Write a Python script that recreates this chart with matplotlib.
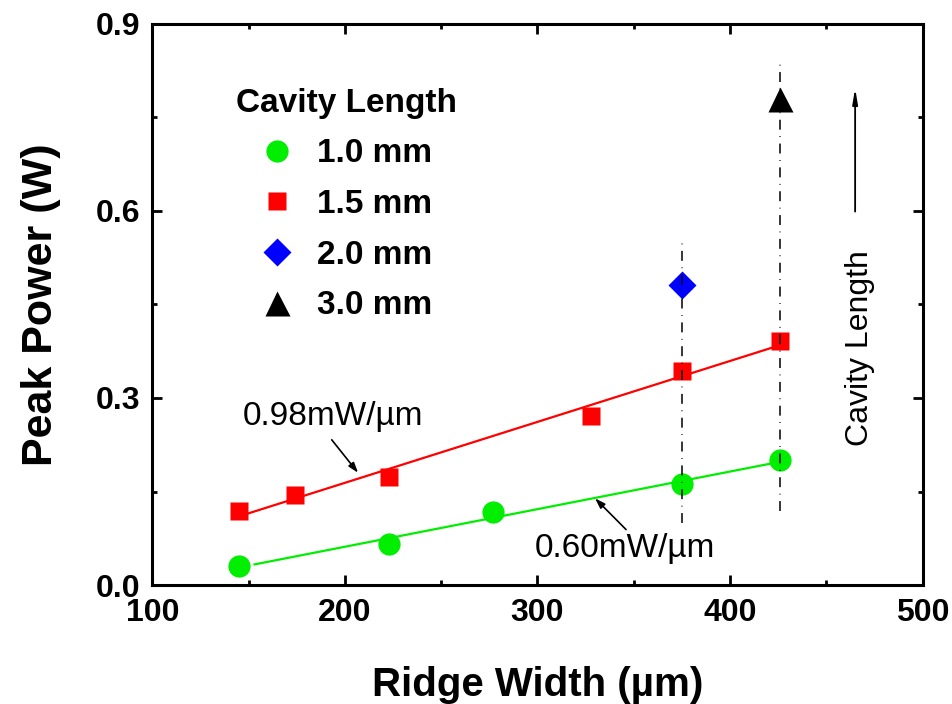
import numpy as np
import matplotlib
matplotlib.use("Agg")
import matplotlib.pyplot as plt

plt.rcParams['font.family'] = ['Liberation Sans', 'DejaVu Sans']

# ---- data ----
w_10 = [145, 223, 277, 375, 426]
p_10 = [0.031, 0.066, 0.117, 0.162, 0.200]
w_15 = [145, 174, 223, 328, 375, 426]
p_15 = [0.119, 0.144, 0.174, 0.271, 0.344, 0.392]
w_20 = [375]
p_20 = [0.481]
w_30 = [426]
p_30 = [0.780]
labels = ['1.0 mm', '1.5 mm', '2.0 mm', '3.0 mm']
fit_range_10 = [153, 426]
fit_range_15 = [150, 426]
vline_x = [375, 426]
vline_ymin = [0.100, 0.119]
vline_ymax = [0.555, 0.838]
xticks = [100, 200, 300, 400, 500]
yticks = [0.0, 0.3, 0.6, 0.9]

fig = plt.figure(figsize=(9.53, 7.04), dpi=100)
ax = fig.add_axes([0.160, 0.169, 0.808, 0.797])

# fits
k10, b10 = np.polyfit(w_10, p_10, 1)
k15, b15 = np.polyfit(w_15, p_15, 1)
fx10 = np.array(fit_range_10)
fx15 = np.array(fit_range_15)
ax.plot(fx15, k15 * fx15 + b15, color='#ff0000', lw=1.6, zorder=2)
ax.plot(fx10, k10 * fx10 + b10, color='#00ee00', lw=1.6, zorder=2)

# vertical dash-dot guides
for x, y0, y1 in zip(vline_x, vline_ymin, vline_ymax):
    ax.plot([x, x], [y0, y1], color='black', lw=1.1,
            linestyle=(0, (6.5, 4.3, 0.5, 4.3)), zorder=4)

# markers
ax.plot(w_10, p_10, 'o', color='#00ee00', ms=16, mec='none', label=labels[0], zorder=3)
ax.plot(w_15, p_15, 's', color='#ff0000', ms=13.5, mec='none', label=labels[1], zorder=3)
ax.plot(w_20, p_20, 'D', color='#0000ff', ms=14, mec='none', label=labels[2], zorder=3)
ax.plot(w_30, p_30, '^', color='black', ms=18, mec='none', label=labels[3], zorder=3)

ax.set_xlim(100, 500)
ax.set_ylim(0, 0.9)
ax.set_xticks(xticks)
ax.set_yticks(yticks)
ax.set_xticklabels([str(v) for v in xticks])
ax.set_yticklabels([f'{v:.1f}' for v in yticks])
ax.set_xticks([150, 250, 350, 450], minor=True)
ax.set_yticks([0.15, 0.45, 0.75], minor=True)
ax.tick_params(which='both', direction='in', top=True, right=True, width=2)
ax.tick_params(which='major', length=7, labelsize=23, pad=9)
ax.tick_params(which='minor', length=3.5)
for lab in ax.get_xticklabels() + ax.get_yticklabels():
    lab.set_fontweight('bold')
for sp in ax.spines.values():
    sp.set_linewidth(2.2)

ax.set_xlabel('Ridge Width (\u00b5m)', fontsize=29, fontweight='bold', labelpad=28)
ax.set_ylabel('Peak Power (W)', fontsize=31, fontweight='bold', labelpad=25)

leg = ax.legend(loc='upper left', bbox_to_anchor=(0.069, 0.940), frameon=False,
                title='Cavity Length', numpoints=1, handlelength=1.0,
                handletextpad=0.7, labelspacing=0.59,
                prop={'size': 24, 'weight': 'bold'},
                title_fontproperties={'size': 24, 'weight': 'bold'})

# annotations
ax.text(147, 0.27, '0.98mW/\u00b5m', fontsize=24, va='center', ha='left')
ax.annotate('', xy=(206.8, 0.180), xytext=(193.1, 0.233),
            arrowprops=dict(arrowstyle='-|>,head_width=0.2,head_length=0.6',
                            color='black', lw=1.2, shrinkA=0, shrinkB=0))
ax.text(298.7, 0.059, '0.60mW/\u00b5m', fontsize=24, va='center', ha='left')
ax.annotate('', xy=(329.9, 0.139), xytext=(346, 0.089),
            arrowprops=dict(arrowstyle='-|>,head_width=0.2,head_length=0.6',
                            color='black', lw=1.2, shrinkA=0, shrinkB=0))

ax.annotate('', xy=(465, 0.797), xytext=(465, 0.599),
            arrowprops=dict(arrowstyle='-|>,head_width=0.15,head_length=0.9',
                            color='black', lw=1.3, shrinkA=0, shrinkB=0))
ax.text(467.5, 0.38, 'Cavity Length', fontsize=23, rotation=90,
        ha='center', va='center')

fig.savefig('out.png', dpi=100)
